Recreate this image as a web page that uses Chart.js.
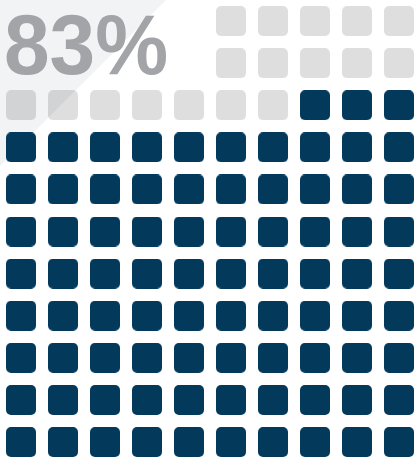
<!DOCTYPE html>
<html>
<head>
<meta charset="utf-8">
<script src="https://cdn.jsdelivr.net/npm/chart.js@4"></script>
<style>
    body { margin: 0; background: #ffffff; }
    #wrap { position: relative; width: 418px; height: 462px; }
    #big {
        position: absolute; left: 4px; top: 5px;
        font: bold 82px "Liberation Sans", Arial, sans-serif;
        color: #a3a4a8; line-height: 1;
        transform: scaleY(1.05); transform-origin: 0 69px;
    }
</style>
</head>
<body>
<div id="wrap">
    <canvas id="waffle" width="418" height="462"></canvas>
    <div id="big"></div>
</div>
<script>
// === Data ===
const categories = ['Share', 'Rest'];
const values = [83, 17];            // out of 100 squares
const seriesColors = ['#033a5c', 'rgba(0, 0, 0, 0.13)'];

// === Layout of the waffle grid ===
const gridColumns = 10;
const gridRows = 11;
const labelCols = 5; // top-left corner kept free for the big label
const labelRows = 2;

document.getElementById('big').textContent = values[0] + '%';

// One rounded square used as the point style
function roundedSquare(color) {
    const c = document.createElement('canvas');
    c.width = 30; c.height = 30;
    const g = c.getContext('2d');
    g.fillStyle = color;
    g.beginPath();
    g.roundRect(0, 0, 30, 30, 5);
    g.fill();
    return c;
}

// Fill the slots from the bottom-right corner, row by row, right to left
const slots = [];
for (let r = gridRows - 1; r >= 0; r--) {
    for (let c = gridColumns - 1; c >= 0; c--) {
        if (r < labelRows && c < labelCols) continue;
        slots.push({ x: c, y: r });
    }
}

let start = 0;
const datasets = categories.map((name, i) => {
    const pts = slots.slice(start, start + values[i]);
    start += values[i];
    return {
        label: name,
        data: pts,
        pointStyle: roundedSquare(seriesColors[i]),
        pointRadius: 15,
        clip: false
    };
});

// Light triangle behind the label
const cornerPlugin = {
    id: 'corner',
    beforeDraw(chart) {
        const ctx = chart.ctx;
        ctx.save();
        ctx.fillStyle = '#f2f3f5';
        ctx.beginPath();
        ctx.moveTo(0, 0);
        ctx.lineTo(166, 0);
        ctx.lineTo(0, 166);
        ctx.closePath();
        ctx.fill();
        ctx.restore();
    }
};

new Chart(document.getElementById('waffle'), {
    type: 'scatter',
    data: { datasets },
    options: {
        responsive: false,
        animation: false,
        events: [],
        layout: { padding: 0, autoPadding: false },
        plugins: { legend: { display: false }, tooltip: { enabled: false } },
        scales: {
            x: { display: false, min: -0.5, max: 418 / 42 - 0.5 },
            y: { display: false, reverse: true, min: -0.5, max: 462 / 42.1 - 0.5 }
        }
    },
    plugins: [cornerPlugin]
});
</script>
</body>
</html>
